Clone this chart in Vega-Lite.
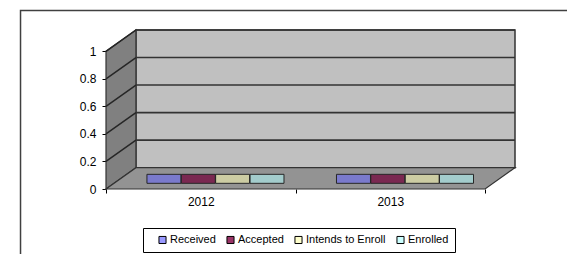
{
  "$schema": "https://vega.github.io/schema/vega-lite/v6.json",
  "width": 409,
  "height": 159,
  "autosize": {"type": "none"},
  "padding": {"left": 106, "top": 30, "right": 52, "bottom": 65},
  "background": "#ffffff",
  "config": {
    "view": {"stroke": null},
    "font": "Liberation Sans",
    "axis": {"labelFont": "Liberation Sans", "labelFontSize": 12, "labelColor": "#000000", "tickColor": "#000000", "tickWidth": 1, "grid": false, "title": null, "labelOverlap": false},
    "legend": {"labelFont": "Liberation Sans"}
  },
  "datasets": {
    "admissions": [
      {"year": "2012", "series": "Received", "value": 0},
      {"year": "2012", "series": "Accepted", "value": 0},
      {"year": "2012", "series": "Intends to Enroll", "value": 0},
      {"year": "2012", "series": "Enrolled", "value": 0},
      {"year": "2013", "series": "Received", "value": 0},
      {"year": "2013", "series": "Accepted", "value": 0},
      {"year": "2013", "series": "Intends to Enroll", "value": 0},
      {"year": "2013", "series": "Enrolled", "value": 0}
    ],
    "frame": [{"u0": -0.451, "u1": 3, "v0": -1, "v1": 1.296}],
    "backWall": [{"u0": 0.158, "u1": 2.158, "v0": 0.155, "v1": 1.155}],
    "sideWall": [{"u": 0, "lo": 0, "hi": 1}, {"u": 0.158, "lo": 0.155, "hi": 1.155}],
    "floor": [
      {"u": 0, "lo": 0, "hi": 0},
      {"u": 0.158, "lo": 0, "hi": 0.155},
      {"u": 2, "lo": 0, "hi": 0.155},
      {"u": 2.158, "lo": 0.155, "hi": 0.155}
    ],
    "grid": [
      {"v": 0.2, "vb": 0.355},
      {"v": 0.4, "vb": 0.555},
      {"v": 0.6, "vb": 0.755},
      {"v": 0.8, "vb": 0.955},
      {"v": 1, "vb": 1.155}
    ]
  },
  "layer": [
    {
      "layer": [
        {
          "data": {"name": "frame"},
          "mark": {"type": "rect", "fill": null, "stroke": "#404040", "strokeWidth": 1.5, "clip": false},
          "encoding": {
            "x": {"field": "u0", "type": "quantitative", "scale": {"domain": [0, 2.158], "nice": false, "zero": false}, "axis": null},
            "x2": {"field": "u1"},
            "y": {"field": "v1", "type": "quantitative", "scale": {"domain": [0, 1.155], "nice": false, "zero": false},
                  "axis": {"values": [0, 0.2, 0.4, 0.6, 0.8, 1], "format": "~g", "domain": false, "ticks": true, "tickSize": 4, "labelPadding": 6, "title": null, "labelOverlap": false}},
            "y2": {"field": "v0"}
          }
        },
        {
          "data": {"name": "backWall"},
          "mark": {"type": "rect", "fill": "#c0c0c0", "stroke": "#333333", "strokeWidth": 1.5},
          "encoding": {
            "x": {"field": "u0", "type": "quantitative", "axis": null},
            "x2": {"field": "u1"},
            "y": {"field": "v1", "type": "quantitative",
                  "axis": {"values": [0, 0.2, 0.4, 0.6, 0.8, 1], "format": "~g", "domain": false, "ticks": true, "tickSize": 4, "labelPadding": 6, "title": null, "labelOverlap": false}},
            "y2": {"field": "v0"}
          }
        },
        {
          "data": {"name": "sideWall"},
          "mark": {"type": "area", "fill": "#808080", "stroke": "#333333", "strokeWidth": 1.2},
          "encoding": {
            "x": {"field": "u", "type": "quantitative", "axis": null},
            "y": {"field": "hi", "type": "quantitative",
                  "axis": {"values": [0, 0.2, 0.4, 0.6, 0.8, 1], "format": "~g", "domain": false, "ticks": true, "tickSize": 4, "labelPadding": 6, "title": null, "labelOverlap": false}},
            "y2": {"field": "lo"}
          }
        },
        {
          "data": {"name": "floor"},
          "mark": {"type": "area", "fill": "#939393", "stroke": "#333333", "strokeWidth": 1.2},
          "encoding": {
            "x": {"field": "u", "type": "quantitative", "axis": null},
            "y": {"field": "hi", "type": "quantitative",
                  "axis": {"values": [0, 0.2, 0.4, 0.6, 0.8, 1], "format": "~g", "domain": false, "ticks": true, "tickSize": 4, "labelPadding": 6, "title": null, "labelOverlap": false}},
            "y2": {"field": "lo"}
          }
        },
        {
          "data": {"name": "grid"},
          "mark": {"type": "rule", "stroke": "#262626", "strokeWidth": 1.5},
          "encoding": {
            "x": {"datum": 0, "type": "quantitative", "axis": null},
            "x2": {"datum": 0.158},
            "y": {"field": "v", "type": "quantitative",
                  "axis": {"values": [0, 0.2, 0.4, 0.6, 0.8, 1], "format": "~g", "domain": false, "ticks": true, "tickSize": 4, "labelPadding": 6, "title": null, "labelOverlap": false}},
            "y2": {"field": "vb"}
          }
        },
        {
          "data": {"name": "grid"},
          "mark": {"type": "rule", "stroke": "#333333", "strokeWidth": 1.6},
          "encoding": {
            "x": {"datum": 0.158, "type": "quantitative", "axis": null},
            "x2": {"datum": 2.158},
            "y": {"field": "vb", "type": "quantitative",
                  "axis": {"values": [0, 0.2, 0.4, 0.6, 0.8, 1], "format": "~g", "domain": false, "ticks": true, "tickSize": 4, "labelPadding": 6, "title": null, "labelOverlap": false}}
          }
        }
      ]
    },
    {
      "data": {"name": "admissions"},
      "layer": [
        {
          "mark": {"type": "tick", "size": 34, "thickness": 9, "opacity": 1},
          "encoding": {
            "x": {"field": "year", "type": "nominal",
                  "scale": {"paddingInner": 0, "paddingOuter": 0.079, "align": 0},
                  "axis": {"title": null, "tickBand": "extent", "domain": false, "labelAngle": 0, "tickSize": 4, "labelPadding": 3}},
            "xOffset": {"field": "series", "type": "nominal",
                        "scale": {"domain": ["Received", "Accepted", "Intends to Enroll", "Enrolled"], "paddingInner": 0, "paddingOuter": 0.759, "align": 0.782}},
            "y": {"field": "value", "type": "quantitative", "scale": {"domain": [-0.074, 1.081], "nice": false, "zero": false}, "axis": null},
            "color": {"field": "series", "type": "nominal",
                      "scale": {"domain": ["Received", "Accepted", "Intends to Enroll", "Enrolled"], "range": ["#9999ff", "#993366", "#ffffcc", "#ccffff"]},
                      "legend": {"orient": "none", "legendX": 37, "legendY": 198, "direction": "horizontal", "title": null,
                                 "symbolType": "square", "symbolSize": 50, "symbolStrokeColor": "#000000", "symbolStrokeWidth": 1,
                                 "labelFontSize": 11, "labelColor": "#000000", "labelOffset": 2, "columnPadding": 1,
                                 "strokeColor": "#000000", "fillColor": "#ffffff", "padding": 6, "symbolOffset": 8}}
          }
        },
        {
          "mark": {"type": "tick", "size": 34, "thickness": 9, "fill": "#000000", "fillOpacity": 0.2, "stroke": "#262626", "strokeWidth": 1},
          "encoding": {
            "x": {"field": "year", "type": "nominal",
                  "axis": {"title": null, "tickBand": "extent", "domain": false, "labelAngle": 0, "tickSize": 4, "labelPadding": 3}},
            "xOffset": {"field": "series", "type": "nominal"},
            "y": {"field": "value", "type": "quantitative", "axis": null}
          }
        }
      ]
    }
  ],
  "resolve": {"scale": {"x": "independent", "y": "independent", "color": "independent"}}
}
